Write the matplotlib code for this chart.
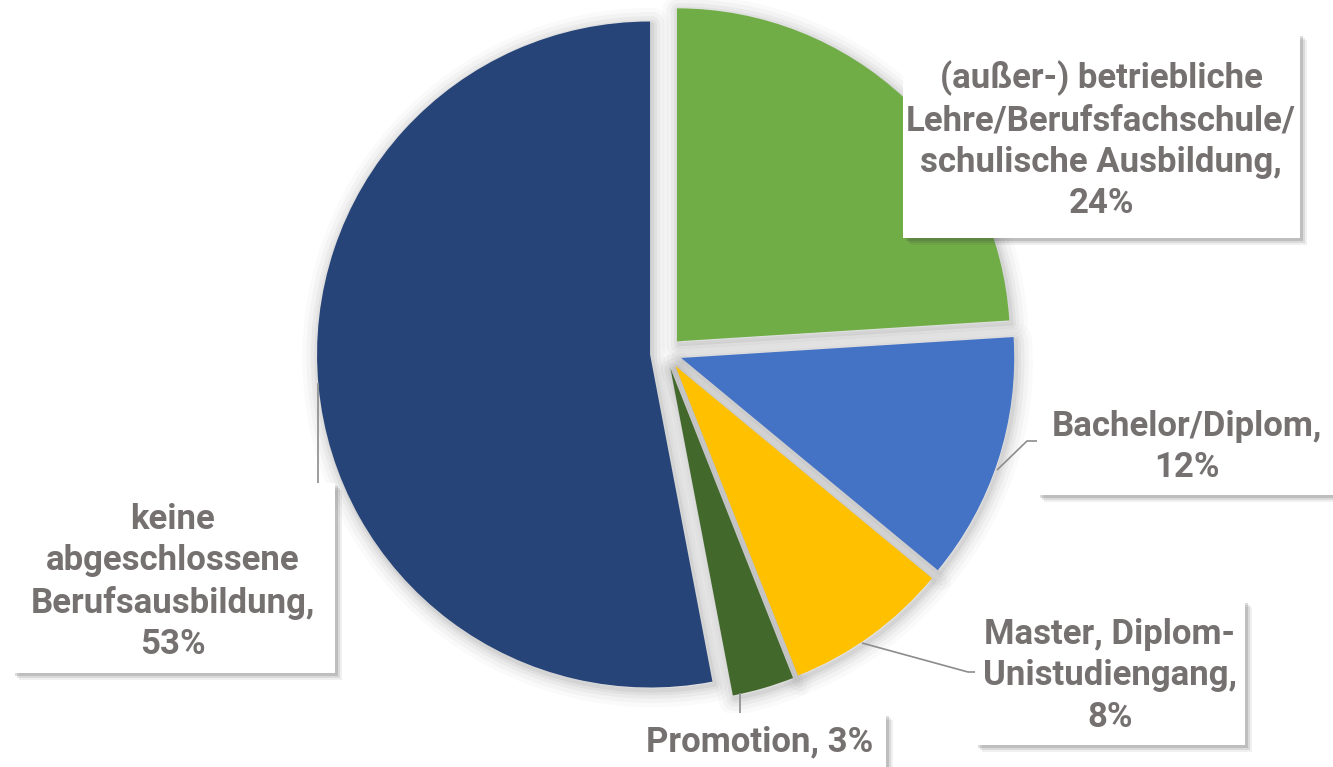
import matplotlib
matplotlib.use("Agg")
import matplotlib.pyplot as plt
from matplotlib.patches import Rectangle

# ---- data ----
categories = [
    "(außer-) betriebliche\nLehre/Berufsfachschule/\nschulische Ausbildung",
    "Bachelor/Diplom",
    "Master, Diplom-\nUnistudiengang",
    "Promotion",
    "keine\nabgeschlossene\nBerufsausbildung",
]
values = [24, 12, 8, 3, 53]
separators = [",\n", ",\n", ",\n", ", ", ",\n"]
colors = ["#70AD47", "#4472C4", "#FFC000", "#43682B", "#264478"]

W, H = 1333, 767
fig = plt.figure(figsize=(W / 100, H / 100), dpi=100)
ax = fig.add_axes([0, 0, 1, 1])

def Y(y):  # image-pixel y -> axes y (upward)
    return H - y

center = (666, Y(353))
radius = 333
explode = [16] * len(values)   # data units (pixels)

# soft shadow halo
for lw, a in [(24, 0.04), (18, 0.05), (12, 0.07), (7, 0.09), (3, 0.12)]:
    wedges, _ = ax.pie(values, explode=explode, startangle=90, counterclock=False,
                       center=(center[0] + 2, center[1] - 3), radius=radius,
                       colors=["none"] * len(values),
                       wedgeprops=dict(edgecolor="#808080", linewidth=lw, alpha=a,
                                       joinstyle="round"))
    for w in wedges:
        w.set_zorder(1)

wedges, _ = ax.pie(values, explode=explode, startangle=90, counterclock=False,
                   center=center, radius=radius, colors=colors,
                   wedgeprops=dict(edgecolor="none", linewidth=0))
for w in wedges:
    w.set_zorder(2)
ax.set_xlim(0, W)
ax.set_ylim(0, H)
ax.set_aspect("equal")
ax.axis("off")

# leader lines (image px)
lines = [
    [(997, 470), (1027, 441), (1037, 441)],
    [(862, 643), (968, 672), (975, 672)],
    [(740, 693), (740, 713)],
    [(318, 383), (318, 483)],
]
for pts in lines:
    ax.plot([p[0] for p in pts], [Y(p[1]) for p in pts], color="#8c8c8c",
            lw=1.2, zorder=3, solid_capstyle="butt")

# label boxes (x0, y0, x1, y1) in image px, and text center
boxes = [
    (903, 33, 1300, 238, 1101, 140),
    (1037, 393, 1345, 495, 1187, 447),
    (975, 600, 1245, 745, 1110, 676),
    (635, 713, 886, 780, 760, 742),
    (12, 483, 335, 673, 173, 582),
]
text_color = "#767171"
for i, (x0, y0, x1, y1, tx, ty) in enumerate(boxes):
    w, h = x1 - x0, y1 - y0
    for off, a in [(7, 0.08), (5, 0.12), (3, 0.18)]:
        ax.add_patch(Rectangle((x0 + off, Y(y1) - off), w, h, facecolor="#404040",
                               edgecolor="none", alpha=a, zorder=4))
    ax.add_patch(Rectangle((x0, Y(y1)), w, h, facecolor="white",
                           edgecolor="none", zorder=5))
    label = f"{categories[i]}{separators[i]}{values[i]}%"
    ax.text(tx, Y(ty), label, ha="center", va="center", fontsize=25,
            fontweight="bold", color=text_color, linespacing=1.32,
            family=["Roboto", "DejaVu Sans"], zorder=6)

fig.savefig("out.png", dpi=100, facecolor="white")
